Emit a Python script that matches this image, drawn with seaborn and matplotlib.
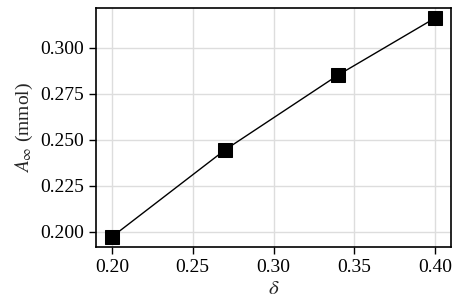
import matplotlib
matplotlib.use("Agg")
import matplotlib.pyplot as plt
import seaborn as sns
import pandas as pd

# data
delta = [0.20, 0.27, 0.34, 0.40]
a_inf = [0.1973, 0.2446, 0.2853, 0.3163]

sns.set_style("whitegrid")
plt.rcParams['font.family'] = ['Liberation Serif', 'DejaVu Serif']
plt.rcParams['mathtext.fontset'] = 'stix'
plt.rcParams['font.size'] = 14

df = pd.DataFrame({'delta': delta, 'a_inf': a_inf})

fig, ax = plt.subplots(figsize=(4.59, 3.08), dpi=100)
sns.lineplot(x='delta', y='a_inf', data=df, ax=ax, color='black', linewidth=1,
             marker='s', markersize=10, markeredgecolor='black')
ax.set_xticks([0.20, 0.25, 0.30, 0.35, 0.40])
ax.set_yticks([0.200, 0.225, 0.250, 0.275, 0.300])
ax.set_xlim(0.1901, 0.4099)
ax.set_ylim(0.1918, 0.3217)
ax.set_xlabel(r'$\delta$', fontsize=15, labelpad=3)
ax.set_ylabel(r'$A_\infty$ (mmol)', fontsize=14, labelpad=4)
ax.grid(True, color='#dddddd', linewidth=1)
for s in ax.spines.values():
    s.set_color('black')
    s.set_linewidth(1.2)
ax.tick_params(axis='both', which='major', length=5, width=1, color='black',
               left=True, bottom=True, labelsize=14, labelcolor='black')
plt.subplots_adjust(left=0.209, right=0.983, top=0.974, bottom=0.198)
plt.savefig('out.png', dpi=100)
